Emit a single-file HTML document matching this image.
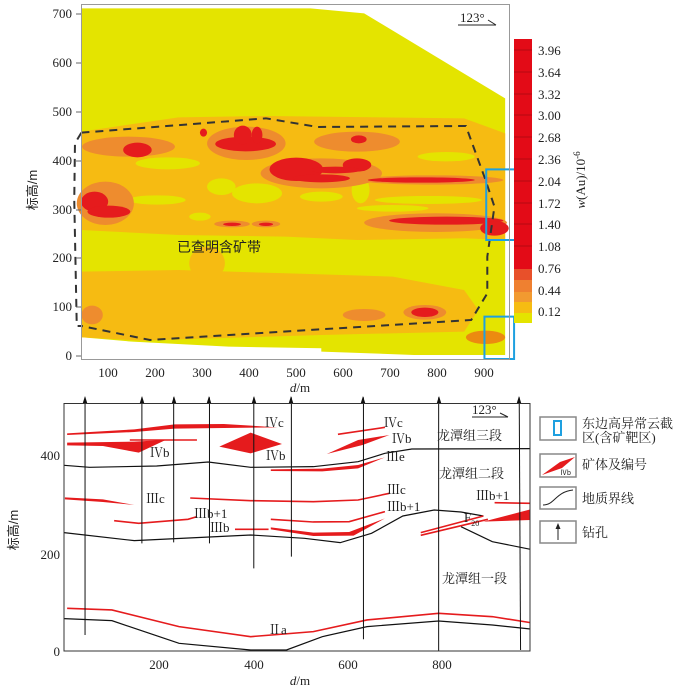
<!DOCTYPE html>
<html><head><meta charset="utf-8"><style>
body{margin:0;background:#fff}
svg text{font-family:"Liberation Serif","Noto Serif CJK SC",serif;fill:#222}
.cj{font-family:"Liberation Sans","Noto Sans CJK SC",sans-serif}
</style></head><body>
<svg width="700" height="688" viewBox="0 0 700 688" xmlns="http://www.w3.org/2000/svg">
<!-- TOP CHART (zoom coords) -->
<g transform="scale(0.357,0.3333)">
<polygon fill="#e4e400" points="228,25 870,25 1020,40 1415,295 1415,1065 1160,1065 900,1055 900,1045 640,1040 370,1025 228,1012"/>
<g fill="#f6bb12">
<polygon points="228,395 500,352 750,348 1300,355 1415,400 1415,720 1300,715 1000,720 800,710 500,705 228,690"/>
<polygon points="228,815 500,810 800,820 1100,830 1300,870 1340,930 1300,995 900,1005 600,1015 400,1022 228,1012"/>
<ellipse cx="580" cy="790" rx="50" ry="50"/>
</g>
<g fill="#e4e400">
<ellipse cx="470" cy="490" rx="90" ry="18"/>
<ellipse cx="720" cy="580" rx="70" ry="30"/>
<ellipse cx="440" cy="600" rx="80" ry="14"/>
<ellipse cx="1250" cy="470" rx="80" ry="14"/>
<ellipse cx="1200" cy="600" rx="150" ry="12"/>
<ellipse cx="900" cy="590" rx="60" ry="15"/>
<ellipse cx="1100" cy="625" rx="100" ry="10"/>
<ellipse cx="620" cy="560" rx="40" ry="25"/>
<ellipse cx="560" cy="650" rx="30" ry="12"/>
<ellipse cx="1010" cy="570" rx="25" ry="40"/>
</g>
<g fill="#ee8c2e">
<ellipse cx="360" cy="440" rx="130" ry="30"/>
<ellipse cx="690" cy="430" rx="110" ry="50"/>
<ellipse cx="900" cy="520" rx="170" ry="45"/>
<ellipse cx="1000" cy="425" rx="120" ry="30"/>
<ellipse cx="1210" cy="540" rx="200" ry="14"/>
<ellipse cx="1220" cy="668" rx="200" ry="28"/>
<ellipse cx="295" cy="610" rx="80" ry="65"/>
<ellipse cx="1190" cy="937" rx="60" ry="22"/>
<ellipse cx="1020" cy="945" rx="60" ry="18"/>
<ellipse cx="258" cy="945" rx="30" ry="28"/>
<ellipse cx="650" cy="672" rx="50" ry="10"/>
<ellipse cx="745" cy="672" rx="40" ry="10"/>
<ellipse cx="1360" cy="1012" rx="55" ry="20" fill="#ec8a10"/>
</g>
<g fill="#e51b1d">
<ellipse cx="385" cy="450" rx="40" ry="22"/>
<ellipse cx="688" cy="432" rx="85" ry="22"/>
<ellipse cx="680" cy="405" rx="25" ry="28"/>
<ellipse cx="720" cy="405" rx="15" ry="25"/>
<ellipse cx="830" cy="508" rx="75" ry="35"/>
<ellipse cx="900" cy="535" rx="80" ry="12"/>
<ellipse cx="1000" cy="495" rx="40" ry="20"/>
<ellipse cx="940" cy="510" rx="70" ry="10"/>
<ellipse cx="1180" cy="540" rx="150" ry="8"/>
<ellipse cx="1250" cy="662" rx="160" ry="12"/>
<ellipse cx="1385" cy="685" rx="40" ry="22"/>
<ellipse cx="265" cy="605" rx="38" ry="30"/>
<ellipse cx="305" cy="635" rx="60" ry="18"/>
<ellipse cx="1190" cy="937" rx="38" ry="14"/>
<ellipse cx="1005" cy="418" rx="22" ry="12"/>
<ellipse cx="570" cy="398" rx="10" ry="12"/>
<ellipse cx="650" cy="673" rx="25" ry="5"/>
<ellipse cx="745" cy="673" rx="20" ry="5"/>
</g>
<polyline fill="none" stroke="#333" stroke-width="2" stroke-dasharray="8,6" vector-effect="non-scaling-stroke" points="228,398 745,355 890,381 1305,378 1360,540 1385,620 1365,770 1365,880 1320,960 420,1020 228,978"/>
<polyline fill="none" stroke="#333" stroke-width="2" stroke-dasharray="8,6" vector-effect="non-scaling-stroke" points="228,398 210,430 208,600 215,978 228,978"/>
<rect x="1362" y="508" width="85" height="212" fill="none" stroke="#1ea0e0" stroke-width="2" vector-effect="non-scaling-stroke"/>
<rect x="1357" y="950" width="83" height="127" fill="none" stroke="#1ea0e0" stroke-width="2" vector-effect="non-scaling-stroke"/>
</g>
<rect x="81.5" y="4.5" width="428" height="355" fill="none" stroke="#999" stroke-width="1"/>
<line x1="458" y1="25" x2="496" y2="25" stroke="#222"/><line x1="488" y1="20" x2="496" y2="25" stroke="#222"/>
<text x="460" y="22" font-size="13">123°</text>
<text x="177" y="252" font-size="14" class="cj">已查明含矿带</text>
<g font-size="13" text-anchor="end">
<text x="72" y="18">700</text><text x="72" y="67">600</text><text x="72" y="116">500</text><text x="72" y="165">400</text><text x="72" y="214">300</text><text x="72" y="262">200</text><text x="72" y="311">100</text><text x="72" y="360">0</text>
</g>
<g stroke="#666"><line x1="76" y1="14" x2="81" y2="14"/><line x1="76" y1="63" x2="81" y2="63"/><line x1="76" y1="112" x2="81" y2="112"/><line x1="76" y1="161" x2="81" y2="161"/><line x1="76" y1="210" x2="81" y2="210"/><line x1="76" y1="258" x2="81" y2="258"/><line x1="76" y1="307" x2="81" y2="307"/><line x1="76" y1="356" x2="81" y2="356"/></g>
<g font-size="13" text-anchor="middle">
<text x="108" y="377">100</text><text x="155" y="377">200</text><text x="202" y="377">300</text><text x="249" y="377">400</text><text x="296" y="377">500</text><text x="343" y="377">600</text><text x="390" y="377">700</text><text x="437" y="377">800</text><text x="484" y="377">900</text>
<text x="300" y="392" font-style="italic">d<tspan font-style="normal">/m</tspan></text>
</g>
<text transform="translate(37,190) rotate(-90)" font-size="13" text-anchor="middle" class="cj">标高/m</text>
<!-- colorbar -->
<rect x="514" y="39" width="18" height="230" fill="#e30b17"/>
<rect x="514" y="269" width="18" height="11" fill="#e8502a"/>
<rect x="514" y="280" width="18" height="12" fill="#ef8030"/>
<rect x="514" y="292" width="18" height="10" fill="#f29a30"/>
<rect x="514" y="302" width="18" height="11" fill="#f6bc12"/>
<rect x="514" y="313" width="18" height="10" fill="#e4e400"/>
<g stroke="#8a0a0a" stroke-width="0.6">
<line x1="514" y1="50" x2="532" y2="50"/><line x1="514" y1="72" x2="532" y2="72"/><line x1="514" y1="94" x2="532" y2="94"/><line x1="514" y1="115" x2="532" y2="115"/><line x1="514" y1="137" x2="532" y2="137"/><line x1="514" y1="159" x2="532" y2="159"/><line x1="514" y1="181" x2="532" y2="181"/><line x1="514" y1="203" x2="532" y2="203"/><line x1="514" y1="224" x2="532" y2="224"/><line x1="514" y1="246" x2="532" y2="246"/>
</g>
<g font-size="13">
<text x="538" y="55">3.96</text><text x="538" y="77">3.64</text><text x="538" y="99">3.32</text><text x="538" y="120">3.00</text><text x="538" y="142">2.68</text><text x="538" y="164">2.36</text><text x="538" y="186">2.04</text><text x="538" y="208">1.72</text><text x="538" y="229">1.40</text><text x="538" y="251">1.08</text><text x="538" y="273">0.76</text><text x="538" y="295">0.44</text><text x="538" y="316">0.12</text>
</g>
<text transform="translate(585,180) rotate(-90)" font-size="13" text-anchor="middle"><tspan font-style="italic">w</tspan>(Au)/10<tspan font-size="9" dy="-5">-6</tspan></text>

<!-- BOTTOM CHART (zoom coords) -->
<g transform="translate(0,390) scale(0.4476,0.3333)">
<g fill="none" stroke="#111" stroke-width="1.2" vector-effect="non-scaling-stroke">
<polyline vector-effect="non-scaling-stroke" points="143,226 200,232 350,228 465,216 560,232 700,230 800,215 860,190 920,177 1185,176"/>
<polyline vector-effect="non-scaling-stroke" points="143,428 300,452 560,435 680,445 760,458 830,430 900,378 970,360 1030,366 1080,378"/>
<polyline vector-effect="non-scaling-stroke" points="1030,410 1100,455 1185,478"/>
<polyline vector-effect="non-scaling-stroke" points="143,686 250,692 400,760 560,780 640,780 720,740 820,710 980,693 1100,705 1185,717"/>
</g>
<g fill="none" stroke="#e51b1d" stroke-width="1.6">
<polyline vector-effect="non-scaling-stroke" points="150,655 250,660 400,710 560,740 700,725 820,690 980,670 1100,680 1185,698"/>
<polyline vector-effect="non-scaling-stroke" points="425,324 560,332 700,335 800,330 870,310"/>
<polyline vector-effect="non-scaling-stroke" points="255,392 310,400 420,388 440,380"/>
<polyline vector-effect="non-scaling-stroke" points="525,418 600,418"/>
<polyline vector-effect="non-scaling-stroke" points="605,388 700,396 780,395 860,365"/>
<polyline vector-effect="non-scaling-stroke" points="755,133 860,112"/>
<polyline vector-effect="non-scaling-stroke" points="1105,338 1185,340"/>
<polyline vector-effect="non-scaling-stroke" points="940,428 1080,378"/>
<polyline vector-effect="non-scaling-stroke" points="940,436 1090,388"/>
<polyline vector-effect="non-scaling-stroke" points="290,150 440,150"/>
</g>
<g fill="#e51b1d">
<polygon points="145,322 230,328 300,345 230,336 145,328"/>
<polygon points="605,412 700,428 780,426 860,385 790,437 700,438 605,418"/>
<polygon points="605,238 720,236 800,225 860,202 800,235 720,244 605,243"/>
<polygon points="150,130 300,118 390,103 500,102 620,112 500,114 390,116 300,126 150,135"/>
<polygon points="150,158 300,155 370,150 310,188 230,168 150,166"/>
<polygon points="490,170 560,128 630,162 560,190"/>
<polygon points="730,192 800,150 870,135 810,165"/>
<polygon points="1080,395 1185,358 1185,390"/>
</g>
<g stroke="#111" stroke-width="1" vector-effect="non-scaling-stroke">
<line x1="190" y1="22" x2="190" y2="735" vector-effect="non-scaling-stroke"/>
<line x1="317" y1="22" x2="317" y2="460" vector-effect="non-scaling-stroke"/>
<line x1="388" y1="22" x2="388" y2="457" vector-effect="non-scaling-stroke"/>
<line x1="468" y1="22" x2="468" y2="460" vector-effect="non-scaling-stroke"/>
<line x1="567" y1="22" x2="567" y2="535" vector-effect="non-scaling-stroke"/>
<line x1="651" y1="22" x2="651" y2="500" vector-effect="non-scaling-stroke"/>
<line x1="812" y1="22" x2="812" y2="748" vector-effect="non-scaling-stroke"/>
<line x1="980" y1="22" x2="980" y2="783" vector-effect="non-scaling-stroke"/>
<line x1="1160" y1="22" x2="1163" y2="780" vector-effect="non-scaling-stroke"/>
</g>
</g>
<g fill="#111">
<polygon points="85,396 82.5,404 87.5,404"/><polygon points="142,396 139.5,404 144.5,404"/><polygon points="174,396 171.5,404 176.5,404"/><polygon points="209,396 206.5,404 211.5,404"/><polygon points="254,396 251.5,404 256.5,404"/><polygon points="291,396 288.5,404 293.5,404"/><polygon points="363,396 360.5,404 365.5,404"/><polygon points="439,396 436.5,404 441.5,404"/><polygon points="519,396 516.5,404 521.5,404"/>
</g>
<rect x="64" y="403.5" width="466" height="247.5" fill="none" stroke="#333" stroke-width="1"/>
<g font-size="13" text-anchor="end"><text x="60" y="460">400</text><text x="60" y="559">200</text><text x="60" y="656">0</text></g>
<g font-size="13" text-anchor="middle"><text x="159" y="669">200</text><text x="254" y="669">400</text><text x="348" y="669">600</text><text x="442" y="669">800</text>
<text x="300" y="685" font-style="italic">d<tspan font-style="normal">/m</tspan></text></g>
<text transform="translate(18,530) rotate(-90)" font-size="13" text-anchor="middle" class="cj">标高/m</text>
<g font-size="13" class="cj">
<text x="265" y="427">Ⅳc</text><text x="150" y="457">Ⅳb</text><text x="266" y="460">Ⅳb</text>
<text x="384" y="427">Ⅳc</text><text x="392" y="443">Ⅳb</text><text x="386" y="461">Ⅲe</text>
<text x="146" y="503">Ⅲc</text><text x="194" y="518">Ⅲb+1</text><text x="210" y="532">Ⅲb</text>
<text x="387" y="494">Ⅲc</text><text x="387" y="511">Ⅲb+1</text><text x="476" y="500">Ⅲb+1</text>
<text x="268" y="634">Ⅱa</text>
<text x="464" y="522">F<tspan font-size="8" dy="4">20</tspan></text>
<text x="437" y="440">龙潭组三段</text><text x="439" y="478">龙潭组二段</text><text x="442" y="583">龙潭组一段</text>
</g>
<line x1="472" y1="417" x2="508" y2="417" stroke="#222"/><line x1="500" y1="413" x2="508" y2="417" stroke="#222"/>
<text x="472" y="414" font-size="13">123°</text>
<!-- legend -->
<g fill="none" stroke="#888" stroke-width="1.5">
<rect x="540" y="417" width="36" height="23"/><rect x="540" y="454" width="36" height="23"/><rect x="540" y="487" width="36" height="22"/><rect x="540" y="521" width="36" height="22"/>
</g>
<rect x="554" y="421" width="7" height="14" fill="none" stroke="#1ea0e0" stroke-width="2"/>
<polygon points="542,475 560,462 575,457 562,468" fill="#e51b1d"/>
<text x="560" y="475" font-size="7" class="cj">Ⅳb</text>
<path d="M543,505 C555,505 555,492 573,490" fill="none" stroke="#222"/>
<line x1="558" y1="540" x2="558" y2="526" stroke="#222"/><polygon points="558,523 555.5,529 560.5,529" fill="#222"/>
<g font-size="13" class="cj">
<text x="582" y="428">东边高异常云截</text><text x="582" y="442">区(含矿靶区)</text>
<text x="582" y="469">矿体及编号</text><text x="582" y="503">地质界线</text><text x="582" y="537">钻孔</text>
</g>
</svg>
</body></html>
